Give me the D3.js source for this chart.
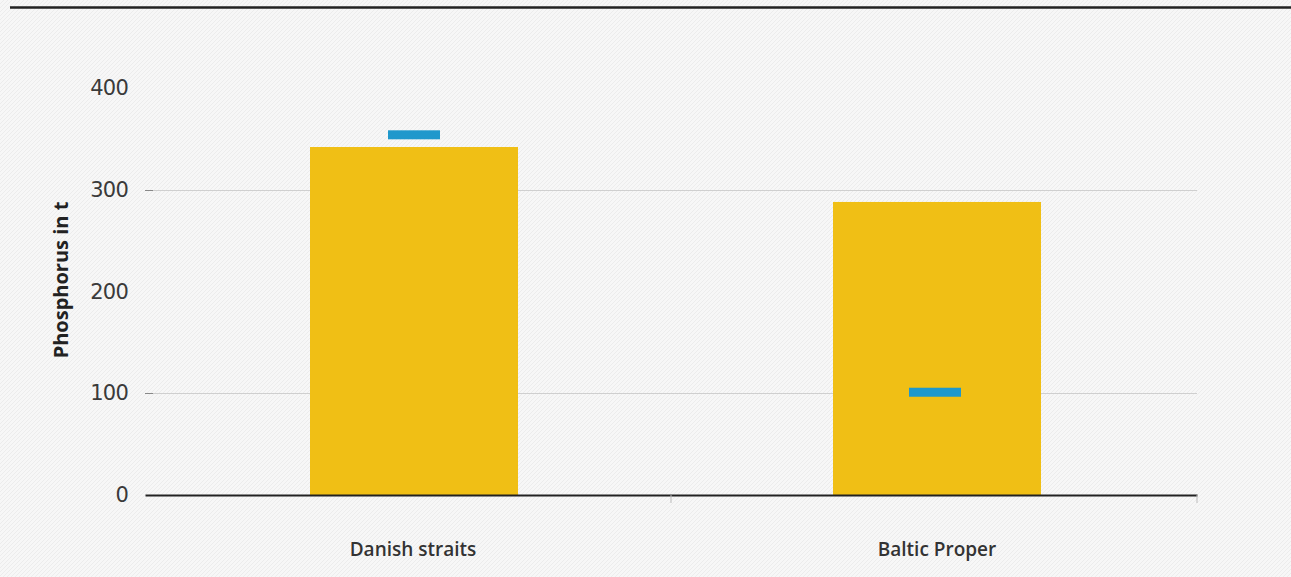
<!DOCTYPE html>
<html>
<head>
<meta charset="utf-8">
<script src="https://cdn.jsdelivr.net/npm/d3@7"></script>
<style>
html,body{margin:0;padding:0;background:#f6f6f6;}
svg{display:block;}
</style>
</head>
<body>
<svg id="chart" width="1291" height="577"></svg>
<script>
const categories = ["Danish straits", "Baltic Proper"];
const barValues = [342, 288];
const markerValues = [354, 101];
const yTicks = [0, 100, 200, 300, 400];
const gridTicks = [100, 300];
const yLabel = "Phosphorus in t";

const W = 1291, H = 577;
const svg = d3.select("#chart");

// background with subtle diagonal hatch
const defs = svg.append("defs");
const pat = defs.append("pattern").attr("id","hatch").attr("patternUnits","userSpaceOnUse")
  .attr("width",4).attr("height",4);
pat.append("rect").attr("width",4).attr("height",4).attr("fill","#f7f7f7");
pat.append("path").attr("d","M-1,1 l2,-2 M0,4 l4,-4 M3,5 l2,-2").attr("stroke","#ececec").attr("stroke-width",1);
svg.append("rect").attr("width",W).attr("height",H).attr("fill","url(#hatch)");

// top rule
svg.append("line").attr("x1",10).attr("x2",W).attr("y1",7.5).attr("y2",7.5)
  .attr("stroke","#222").attr("stroke-width",2.5);

const margin = {left:145, right:94};
const x = d3.scaleBand().domain(categories).range([margin.left, W - margin.right]).paddingInner(0).paddingOuter(0);
const y = d3.scaleLinear().domain([0,400]).range([495, 88]);

// gridlines
const gg = svg.append("g");
gg.selectAll("line.grid").data(gridTicks).join("line").attr("class","grid")
  .attr("x1", margin.left).attr("x2", W - margin.right)
  .attr("y1", d=>Math.round(y(d))+0.5).attr("y2", d=>Math.round(y(d))+0.5)
  .attr("stroke","#cfcfcf").attr("stroke-width",1);
gg.selectAll("line.tk").data(gridTicks).join("line").attr("class","tk")
  .attr("x1", margin.left).attr("x2", margin.left+8)
  .attr("y1", d=>Math.round(y(d))+0.5).attr("y2", d=>Math.round(y(d))+0.5)
  .attr("stroke","#888").attr("stroke-width",1);

// y axis labels
const yAxis = d3.axisLeft(y).tickValues(yTicks).tickSize(0).tickPadding(17);
const gy = svg.append("g").attr("transform",`translate(${margin.left},0)`).call(yAxis);
gy.select(".domain").remove();
gy.selectAll("text").attr("font-family","'DejaVu Sans', sans-serif").attr("font-size",21)
  .attr("letter-spacing","-0.8px").attr("fill","#3a3a3a");

// bars
const bw = 208;
svg.append("g").selectAll("rect").data(categories).join("rect")
  .attr("x", (d,i)=>x(d) + x.bandwidth()/2 - bw/2 + (i===0?6:3))
  .attr("width", bw)
  .attr("y", (d,i)=>y(barValues[i]))
  .attr("height", (d,i)=>y(0)-y(barValues[i]))
  .attr("fill","#f0bf15");

// markers
const mw = 52, mh = 9;
svg.append("g").selectAll("rect").data(categories).join("rect")
  .attr("x", (d,i)=>x(d) + x.bandwidth()/2 - mw/2 + (i===0?6:1))
  .attr("width", mw)
  .attr("y", (d,i)=>y(markerValues[i]) - mh/2)
  .attr("height", mh)
  .attr("fill","#1f98cc");

// x axis
const xAxis = d3.axisBottom(x).tickSize(0).tickPadding(0).tickFormat("");
const gx = svg.append("g").attr("transform",`translate(0,${y(0)})`).call(xAxis);
gx.select(".domain").attr("stroke","#222").attr("stroke-width",2);
// boundary ticks
svg.append("g").selectAll("line").data([x.range()[0] + x.bandwidth(), x.range()[1]]).join("line")
  .attr("x1",d=>d).attr("x2",d=>d).attr("y1",y(0)).attr("y2",y(0)+8)
  .attr("stroke","#bbb").attr("stroke-width",1);

// category labels
svg.append("g").selectAll("text").data(categories).join("text")
  .attr("x", (d,i)=>x(d)+x.bandwidth()/2 + (i===0?5:3))
  .attr("y", 556)
  .attr("text-anchor","middle")
  .attr("font-family","'Open Sans', sans-serif")
  .attr("font-weight",600)
  .attr("font-size",19)
  .attr("fill","#333")
  .text(d=>d);

// y label
svg.append("text")
  .attr("transform","translate(68,280) rotate(-90)")
  .attr("text-anchor","middle")
  .attr("font-family","'Open Sans', sans-serif")
  .attr("font-weight",700)
  .attr("font-size",20)
  .attr("fill","#222")
  .text(yLabel);
</script>
</body>
</html>
